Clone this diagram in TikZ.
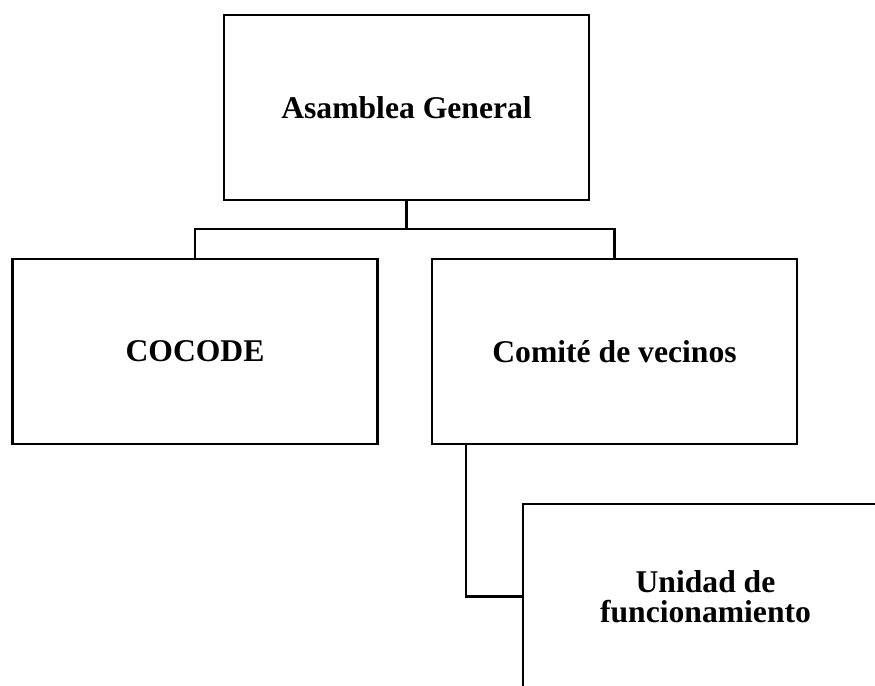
\documentclass[tikz,border=0pt]{standalone}
\usepackage{fontspec}
\setmainfont{Liberation Serif}
\usetikzlibrary{positioning}

\begin{document}
\begin{tikzpicture}[node distance= 2cm, on grid, line width= 1.2pt]
      \useasboundingbox (0,0) rectangle (17.5,-13.7);
      \clip (0,0) rectangle (17.5,-13.7);
      \begin{scope}[every node/.style={rectangle,draw,align=center,
          minimum width= 7.3cm, minimum height= 3.7cm,
          font=\bfseries\fontsize{18}{17}\selectfont}]
        \node (A) at (8.13,-2.15) {Asamblea General};
        \node (C) [below left= 4.88cm and 4.23cm of A] {COCODE};
        \node (V) [right= 8.39cm of C] {Comité de vecinos};
        \node (U) [below right= 4.9cm and 1.82cm of V] {Unidad de\\funcionamiento};
      \end{scope}
      \begin{scope}[every path/.style={draw= black}]
        \path (A.south) -- ++(0,-0.56) -| (C.north);
        \path (A.south) -- ++(0,-0.56) -| (V.north);
        \path ([xshift= 0.7cm]V.south west) |- (U.west);
      \end{scope}
    \end{tikzpicture}
\end{document}
